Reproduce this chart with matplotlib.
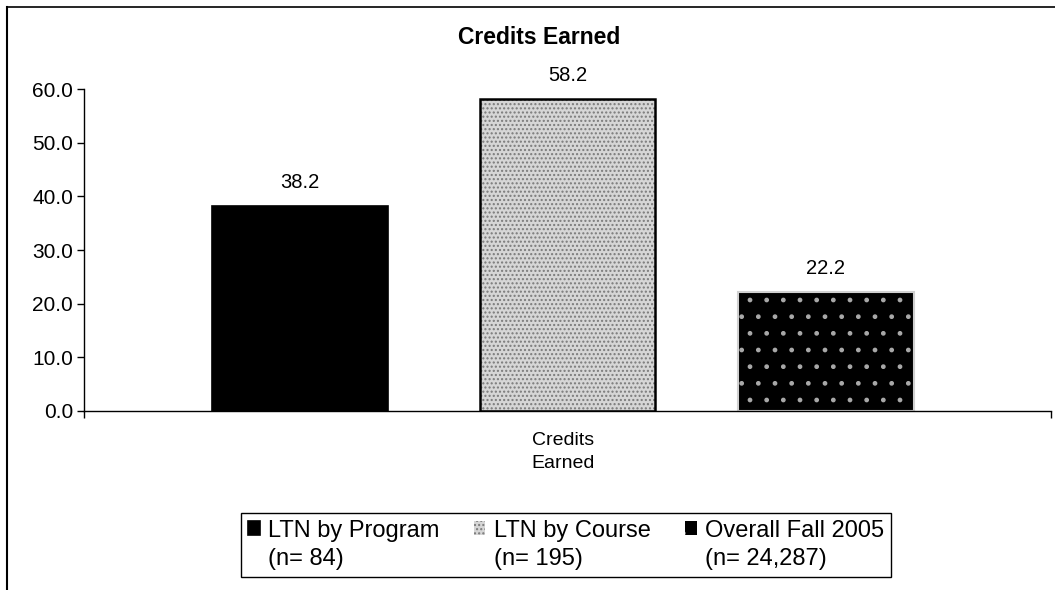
import matplotlib.pyplot as plt
from matplotlib.lines import Line2D
from matplotlib.patches import Rectangle
from matplotlib.legend_handler import HandlerPatch

plt.rcParams['font.family'] = ['Liberation Sans', 'DejaVu Sans']

# data
category = "Credits\nEarned"
series = ["LTN by Program\n(n= 84)", "LTN by Course\n(n= 195)", "Overall Fall 2005\n(n= 24,287)"]
values = [38.2, 58.2, 22.2]
y_ticks = [0, 10, 20, 30, 40, 50, 60]

W, H = 1055, 590
fig = plt.figure(figsize=(W / 100, H / 100), dpi=100)
ax = fig.add_axes([84 / W, 1 - 411 / H, (1051 - 84) / W, (411 - 89) / H])

offsets = [-0.277, 0.0, 0.267]
width = 0.182

# bar 1: solid black
b1 = ax.bar(offsets[0], values[0], width, color="black", edgecolor="black", linewidth=1.2)
# bar 2: light stipple
b2 = ax.bar(offsets[1], values[1], width, color="#d6d6d6", edgecolor="#7a7a7a",
            hatch="....", linewidth=0)
ax.bar(offsets[1], values[1], width, fill=False, edgecolor="black", linewidth=1.8)
# bar 3: black with light speckles
b3 = ax.bar(offsets[2], values[2], width, color="black", edgecolor="#a8a8a8",
            hatch=".", linewidth=0)
ax.bar(offsets[2], values[2], width, fill=False, edgecolor="#d0d0d0", linewidth=1.5)

for x, v in zip(offsets, values):
    ax.text(x, v + 2.6, f"{v:.1f}", ha="center", va="bottom", fontsize=14.5)

ax.set_xlim(-0.5, 0.5)
ax.set_ylim(0, 60)
ax.set_yticks(y_ticks)
ax.set_yticklabels([f"{t:.1f}" for t in y_ticks], fontsize=15)
ax.set_xticks([-0.5, 0.5])
ax.set_xticklabels([])
ax.tick_params(axis="y", direction="out", length=5, width=1, pad=3)
ax.tick_params(axis="x", direction="out", length=5, width=1)
ax.spines["top"].set_visible(False)
ax.spines["right"].set_visible(False)
ax.spines["left"].set_linewidth(1)
ax.spines["bottom"].set_linewidth(1)

ax.text(-0.005, -3.9, category, ha="center", va="top", fontsize=14, linespacing=1.45)

fig.text(539 / W, 1 - 38 / H, "Credits Earned", ha="center", va="center",
         fontsize=16.5, fontweight="bold")

# outer chart border
fig.add_artist(Line2D([7 / W, 7 / W], [0, 1 - 7 / H], color="black", lw=1.5,
                      transform=fig.transFigure))
fig.add_artist(Line2D([7 / W, 1], [1 - 7 / H, 1 - 7 / H], color="black", lw=1.2,
                      transform=fig.transFigure))


# legend squares sit beside the first line of each two-line label
def top_square(legend, orig_handle, xdescent, ydescent, width, height, fontsize):
    return Rectangle((-xdescent, -ydescent + 0.72 * fontsize), width, height)


handles = [b1[0], b2[0], b3[0]]
leg = fig.legend(handles, series, loc="upper center",
                 bbox_to_anchor=(566 / W, 1 - 513 / H), ncol=3, fontsize=17,
                 frameon=True, fancybox=False, edgecolor="black", framealpha=1,
                 handlelength=0.5, handleheight=0.5, handletextpad=0.35,
                 columnspacing=1.45, borderpad=0.3, borderaxespad=0,
                 handler_map={h: HandlerPatch(patch_func=top_square) for h in handles})
leg.get_frame().set_linewidth(1)
for t in leg.get_texts():
    t.set_linespacing(1.35)

fig.savefig("out.png", dpi=100, facecolor="white")
